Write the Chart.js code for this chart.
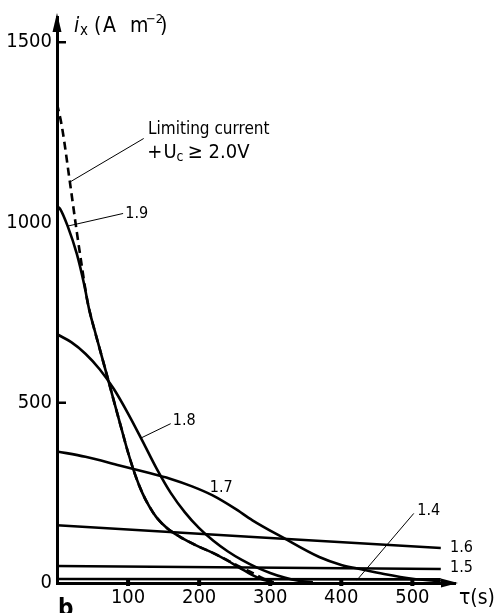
<!DOCTYPE html>
<html><head><meta charset="utf-8">
<script src="https://cdn.jsdelivr.net/npm/chart.js@4/dist/chart.umd.min.js"></script>
<style>html,body{margin:0;padding:0;background:#fff;}canvas{display:block;}</style>
</head><body>
<canvas id="c" width="494" height="613"></canvas>
<script>
const FONT = "'DejaVu Sans Condensed','Liberation Sans Narrow','DejaVu Sans',sans-serif";

// tick labels
const xTicks = [100, 200, 300, 400, 500];
const yTicks = [0, 500, 1000, 1500];

// Limiting current (U_c >= 2.0 V), dashed
const tauLim = [0, 7, 18, 28, 36, 42, 50, 60, 70, 80, 90, 100, 110, 120, 130, 140, 155, 173, 195, 220, 240, 257, 275, 290, 300];
const iLim   = [1330, 1265, 1114, 972, 865, 790, 722, 650, 578, 505, 433, 362, 300, 250, 212, 182, 152, 128, 105, 83, 63, 45, 28, 13, 5];
// U_c = 1.9 V
const tau19 = [0, 4, 15, 28, 38, 46, 52, 60, 70, 80, 90, 100, 110, 120, 130, 140, 155, 173, 195, 220, 240, 257, 275, 290, 305];
const i19   = [1045, 1039, 990, 912, 830, 752, 708, 650, 578, 505, 433, 362, 300, 250, 212, 182, 152, 128, 105, 83, 62, 42, 22, 9, 2];
// U_c = 1.8 V
const tau18 = [0, 20, 40, 60, 80, 100, 120, 140, 160, 180, 200, 220, 240, 260, 280, 300, 320, 340, 360];
const i18   = [690, 668, 636, 593, 538, 470, 395, 318, 250, 196, 152, 117, 88, 64, 44, 28, 15, 6, 2];
// U_c = 1.7 V
const tau17 = [0, 40, 88, 130, 158, 190, 219, 250, 275, 317, 369, 400, 428, 460, 500, 540];
const i17   = [365, 350, 326, 305, 290, 268, 243, 207, 174, 127, 72, 50, 38, 25, 12, 5];
// U_c = 1.6 V
const tau16 = [0, 540];
const i16   = [160, 97];
// U_c = 1.5 V
const tau15 = [0, 540];
const i15   = [47, 39];
// U_c = 1.4 V
const tau14 = [0, 540];
const i14   = [11, 10];

function pts(t, v) { return t.map((x, k) => ({x: x, y: v[k]})); }

const series = [
  {label: 'Limiting current', t: tauLim, v: iLim, dash: [8, 5]},
  {label: '1.9', t: tau19, v: i19},
  {label: '1.8', t: tau18, v: i18},
  {label: '1.7', t: tau17, v: i17},
  {label: '1.6', t: tau16, v: i16},
  {label: '1.5', t: tau15, v: i15},
  {label: '1.4', t: tau14, v: i14}
];

const annot = {
  id: 'annot',
  afterDraw(chart) {
    const {ctx, chartArea: a, scales: {x, y}} = chart;
    const X = v => x.getPixelForValue(v), Y = v => y.getPixelForValue(v);
    const ax = X(0), ay = Y(0);
    ctx.save();
    ctx.fillStyle = '#000'; ctx.strokeStyle = '#000';
    // arrow heads
    ctx.beginPath();
    ctx.moveTo(ax, a.top - 4); ctx.lineTo(ax - 4.5, a.top + 15); ctx.lineTo(ax + 4.5, a.top + 15); ctx.closePath(); ctx.fill();
    ctx.beginPath();
    ctx.moveTo(a.right + 3, ay); ctx.lineTo(a.right - 14, ay - 4.5); ctx.lineTo(a.right - 14, ay + 4.5); ctx.closePath(); ctx.fill();
    // y tick marks
    ctx.lineWidth = 2.5;
    [500, 1500].forEach(v => { ctx.beginPath(); ctx.moveTo(ax, Y(v)); ctx.lineTo(ax + 9, Y(v)); ctx.stroke(); });
    // x tick marks
    xTicks.forEach(v => { ctx.fillRect(X(v) - 2, ay - 4, 4, 7); });
    // leader lines
    ctx.lineWidth = 1;
    const lead = (t1, v1, t2, v2) => { ctx.beginPath(); ctx.moveTo(X(t1), Y(v1)); ctx.lineTo(X(t2), Y(v2)); ctx.stroke(); };
    lead(18, 1112, 122, 1233);
    lead(15, 990, 93, 1025);
    lead(117, 401, 160, 442);
    lead(422, 8, 502, 193);
    ctx.textBaseline = 'alphabetic';
    ctx.textAlign = 'left';
    // annotation texts
    ctx.font = '17px ' + FONT;
    ctx.fillText('Limiting current', X(128), 134);
    ctx.font = '20px ' + FONT;
    ctx.fillText('+', X(127), 158);
    ctx.fillText('U', X(150), 158);
    ctx.font = '14px ' + FONT;
    ctx.fillText('c', X(168), 161);
    ctx.font = '20px ' + FONT;
    ctx.fillText('\u2265 2.0V', X(184), 158);
    ctx.font = '16px ' + FONT;
    ctx.textBaseline = 'middle';
    ctx.fillText('1.9', X(96), Y(1025));
    ctx.fillText('1.8', X(163), Y(450));
    ctx.fillText('1.7', X(215), Y(265));
    ctx.fillText('1.6', X(553), Y(97));
    ctx.fillText('1.5', X(553), Y(41));
    ctx.fillText('1.4', X(507), Y(199));
    // axis titles
    ctx.textBaseline = 'alphabetic';
    ctx.font = '21px ' + FONT;
    ctx.fillText('\u03C4(s)', 459, 604);
    ctx.font = 'italic 21px ' + FONT;
    ctx.fillText('i', 74, 32);
    ctx.font = '15px ' + FONT;
    ctx.fillText('x', 80, 35);
    ctx.font = '21px ' + FONT;
    ctx.fillText('(', 94, 32);
    ctx.fillText('A', 103, 32);
    ctx.fillText('m', 130, 32);
    ctx.font = '13px ' + FONT;
    ctx.fillText('\u22122', 146, 23);
    ctx.font = '21px ' + FONT;
    ctx.fillText(')', 160, 32);
    ctx.font = 'bold 24px ' + FONT;
    ctx.fillText('b', 58, 616);
    ctx.restore();
  }
};

new Chart(document.getElementById('c').getContext('2d'), {
  type: 'line',
  data: {
    datasets: series.map(s => ({
      label: s.label,
      data: pts(s.t, s.v),
      borderColor: '#000',
      borderWidth: 2.6,
      borderDash: s.dash || [],
      pointRadius: 0,
      fill: false,
      cubicInterpolationMode: 'monotone'
    }))
  },
  options: {
    responsive: false,
    animation: false,
    devicePixelRatio: 1,
    layout: {padding: {top: 15, right: 39, left: 0, bottom: 0}},
    plugins: {legend: {display: false}, tooltip: {enabled: false}},
    scales: {
      x: {
        type: 'linear', min: 0, max: 560,
        afterBuildTicks: s => { s.ticks = xTicks.map(v => ({value: v})); },
        afterFit: s => { s.height = 30; },
        grid: {display: false, drawTicks: false},
        border: {display: true, color: '#000', width: 3},
        ticks: {padding: 3, color: '#000', font: {family: FONT, size: 20}, maxRotation: 0, autoSkip: false, callback: v => String(v)}
      },
      y: {
        type: 'linear', min: 0, max: 1570,
        afterBuildTicks: s => { s.ticks = yTicks.map(v => ({value: v})); },
        afterFit: s => { s.width = 57; },
        grid: {display: false, drawTicks: false},
        border: {display: true, color: '#000', width: 3},
        ticks: {padding: 5, color: '#000', font: {family: FONT, size: 20}, autoSkip: false, callback: v => String(v)}
      }
    }
  },
  plugins: [annot]
});
</script>
</body></html>
